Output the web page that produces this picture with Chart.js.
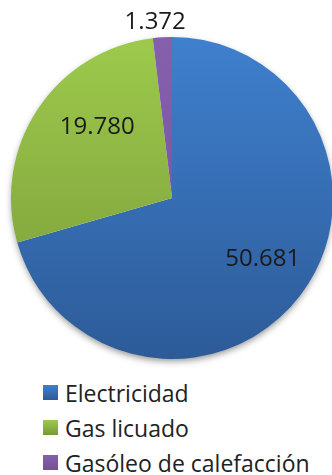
<!DOCTYPE html>
<html>
<head>
<meta charset="utf-8">
<script src="https://cdn.jsdelivr.net/npm/chart.js@4/dist/chart.umd.min.js"></script>
<style>
  html, body { margin: 0; padding: 0; background: #fff; overflow: hidden; width: 332px; height: 475px; }
  #legend { position: absolute; left: 43px; top: 375px; margin: 0; padding: 0; list-style: none;
            font-family: "Open Sans", Lato, sans-serif; font-size: 23px; color: #222; }
  #legend li { height: 35px; line-height: 32px; display: flex; align-items: center; }
  #legend span.box { display: inline-block; width: 15px; height: 15px; margin-right: 7px; }
</style>
</head>
<body>
<canvas id="consumo" width="342" height="372"></canvas>
<ul id="legend"></ul>
<script>
const labels = ["Electricidad", "Gas licuado", "Gasóleo de calefacción"];
const values = [50681, 19780, 1372];
const valueText = ["50.681", "19.780", "1.372"];

// top / bottom shade of each slice
const colorsTop = ["#3f80ce", "#9dca4c", "#8460ad"];
const colorsBottom = ["#2d5b98", "#789838", "#74509b"];

// where each value label sits: fraction of radius, angle nudge in degrees
const labelSpots = [{ r: 0.68, turn: -3 }, { r: 0.64, turn: 10 }, { r: 1.1, turn: -2 }];

function sliceFill(ctx) {
    const chart = ctx.chart;
    const area = chart.chartArea;
    if (!area) return colorsTop[ctx.dataIndex];
    const g = chart.ctx.createLinearGradient(0, area.top, 0, area.bottom);
    g.addColorStop(0, colorsTop[ctx.dataIndex]);
    g.addColorStop(1, colorsBottom[ctx.dataIndex]);
    return g;
}

// soft shadow under the pie
const pieShadow = {
    id: "pieShadow",
    beforeDatasetsDraw(chart) {
        const arc = chart.getDatasetMeta(0).data[0];
        if (!arc) return;
        const c = chart.ctx;
        c.save();
        c.shadowColor = "rgba(0,0,0,0.45)";
        c.shadowBlur = 7;
        c.shadowOffsetY = 3;
        c.fillStyle = "#fff";
        c.beginPath();
        c.arc(arc.x, arc.y, arc.outerRadius - 1, 0, Math.PI * 2);
        c.fill();
        c.restore();
    }
};

// value labels, placed from each arc's own angles
const valueLabels = {
    id: "valueLabels",
    afterDatasetsDraw(chart) {
        const c = chart.ctx;
        c.save();
        c.font = "24px 'Open Sans', Lato, sans-serif";
        c.fillStyle = "#1a1a1a";
        c.textAlign = "center";
        c.textBaseline = "middle";
        chart.getDatasetMeta(0).data.forEach((arc, i) => {
            const spot = labelSpots[i];
            const mid = (arc.startAngle + arc.endAngle) / 2 + spot.turn * Math.PI / 180;
            const r = arc.outerRadius * spot.r;
            c.fillText(valueText[i], arc.x + Math.cos(mid) * r, arc.y + Math.sin(mid) * r);
        });
        c.restore();
    }
};

const chart = new Chart(document.getElementById("consumo").getContext("2d"), {
    type: "pie",
    data: {
        labels: labels,
        datasets: [{
            data: values,
            backgroundColor: sliceFill,
            borderWidth: 0,
            hoverOffset: 0,
            offset: 0
        }]
    },
    options: {
        responsive: false,
        animation: false,
        radius: 161,
        layout: { padding: { top: 37, bottom: 13, left: 11, right: 9 } },
        plugins: {
            legend: { display: false },
            tooltip: { enabled: false }
        }
    },
    plugins: [pieShadow, valueLabels]
});

// legend list under the pie
const list = document.getElementById("legend");
labels.forEach((name, i) => {
    const li = document.createElement("li");
    const box = document.createElement("span");
    box.className = "box";
    box.style.background = "linear-gradient(" + colorsTop[i] + "," + colorsBottom[i] + ")";
    li.appendChild(box);
    li.appendChild(document.createTextNode(name));
    list.appendChild(li);
});
</script>
</body>
</html>
